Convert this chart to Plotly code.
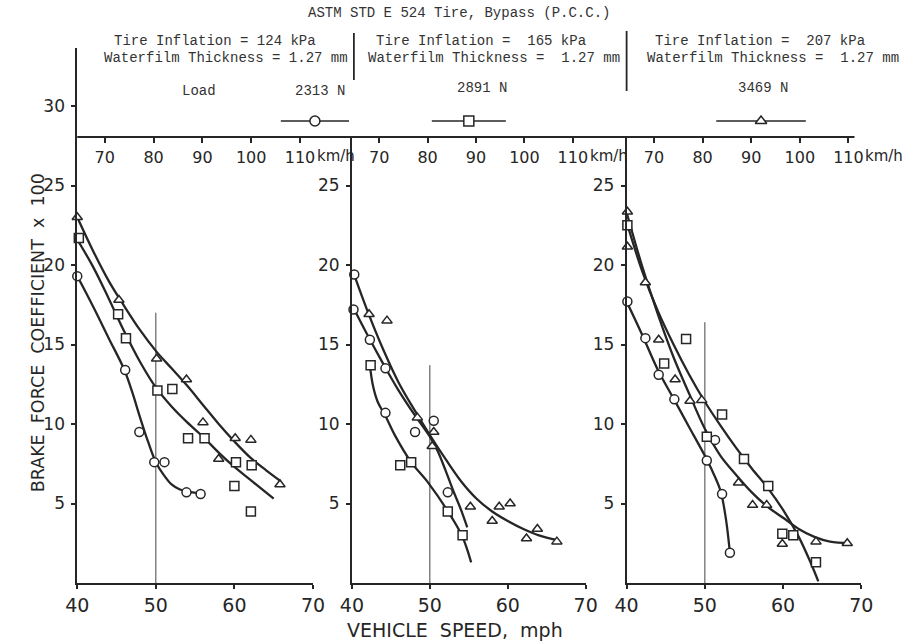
import plotly.graph_objects as go

# ---------------- data ----------------
# Panel 1: tire inflation 124 kPa
p1_circ_x = [40.0, 46.1, 47.9, 49.8, 51.1, 53.9, 55.7]
p1_circ_y = [19.3, 13.4, 9.5, 7.6, 7.6, 5.7, 5.6]
p1_sq_x = [40.2, 45.2, 46.2, 50.2, 52.1, 54.1, 56.2, 60.2, 62.2, 60.0, 62.1]
p1_sq_y = [21.7, 16.9, 15.4, 12.1, 12.2, 9.1, 9.1, 7.6, 7.4, 6.1, 4.5]
p1_tri_x = [40.0, 45.3, 50.1, 53.9, 56.0, 58.0, 60.1, 62.1, 65.8]
p1_tri_y = [23.0, 17.8, 14.1, 12.8, 10.1, 7.8, 9.1, 9.0, 6.2]
p1_circ_fit_x = [40, 42, 44, 46, 47, 48, 49, 50, 51, 52, 53, 54, 55.7]
p1_circ_fit_y = [19.3, 17.4, 15.4, 13.4, 12.0, 10.4, 8.9, 7.6, 6.8, 6.2, 5.9, 5.75, 5.65]
p1_sq_fit_x = [40, 42, 44, 46, 48, 50, 52, 54, 56, 58, 60, 62, 65]
p1_sq_fit_y = [21.6, 19.9, 17.9, 15.8, 13.9, 12.3, 11.1, 10.1, 9.2, 8.2, 7.3, 6.5, 5.3]
p1_tri_fit_x = [40, 42, 44, 46, 48, 50, 52, 54, 56, 58, 60, 62, 64, 65.9]
p1_tri_fit_y = [23.0, 20.9, 19.0, 17.4, 15.9, 14.6, 13.5, 12.4, 11.2, 10.0, 8.9, 7.9, 7.1, 6.4]

# Panel 2: tire inflation 165 kPa
p2_circ_x = [40.3, 40.2, 42.3, 44.3, 44.3, 48.1, 50.5, 52.3]
p2_circ_y = [19.4, 17.2, 15.3, 13.5, 10.7, 9.5, 10.2, 5.7]
p2_sq_x = [42.4, 46.2, 47.6, 52.3, 54.2]
p2_sq_y = [13.7, 7.4, 7.6, 4.5, 3.0]
p2_tri_x = [42.2, 44.5, 48.4, 50.5, 50.3, 55.2, 58.0, 58.9, 60.3, 62.4, 63.8, 66.3]
p2_tri_y = [16.9, 16.5, 10.4, 9.5, 8.6, 4.8, 3.9, 4.8, 5.0, 2.8, 3.4, 2.6]
p2_tri_fit_x = [40.2, 42, 44, 46, 48, 50, 52, 54, 56, 58, 60, 62, 64, 66.4]
p2_tri_fit_y = [19.5, 17.1, 14.7, 12.6, 10.9, 9.3, 7.8, 6.4, 5.3, 4.5, 3.9, 3.4, 3.0, 2.7]
p2_circ_fit_x = [40.2, 42, 44, 46, 48, 50, 51, 52, 53, 54, 54.8]
p2_circ_fit_y = [17.3, 15.6, 13.8, 12.1, 10.6, 9.2, 8.3, 7.1, 5.8, 4.6, 3.5]
p2_sq_fit_x = [42.3, 42.7, 43.3, 44.3, 45.5, 47.6, 49.8, 52.2, 54.1, 55.3]
p2_sq_fit_y = [13.7, 12.4, 11.4, 10.5, 9.3, 7.6, 6.3, 4.6, 3.0, 1.3]

# Panel 3: tire inflation 207 kPa
p3_circ_x = [40.1, 42.4, 44.1, 46.1, 50.25, 51.3, 52.2, 53.2]
p3_circ_y = [17.7, 15.4, 13.1, 11.55, 7.7, 9.0, 5.6, 1.9]
p3_sq_x = [40.1, 44.8, 47.6, 50.25, 52.2, 55.0, 58.1, 59.9, 61.3, 64.2]
p3_sq_y = [22.5, 13.8, 15.35, 9.2, 10.6, 7.8, 6.1, 3.1, 3.0, 1.3]
p3_tri_x = [40.1, 40.1, 42.4, 44.1, 46.2, 48.1, 49.6, 54.3, 56.1, 57.9, 59.9, 64.2, 68.2]
p3_tri_y = [23.35, 21.15, 18.9, 15.3, 12.8, 11.45, 11.5, 6.3, 4.9, 4.9, 2.45, 2.6, 2.5]
p3_sq_fit_x = [40, 42, 44, 46, 48, 50, 52, 54, 56, 58, 60, 62, 63.5, 64.5]
p3_sq_fit_y = [22.7, 19.6, 17.1, 15.0, 13.1, 11.4, 9.9, 8.5, 7.2, 6.0, 4.6, 2.9, 1.3, 0.1]
p3_tri_fit_x = [40, 42, 44, 46, 48, 50, 52, 54, 56, 58, 60, 62, 64, 66, 68.5]
p3_tri_fit_y = [23.3, 19.9, 16.9, 14.2, 11.9, 9.7, 8.0, 6.8, 5.7, 4.8, 4.1, 3.4, 2.9, 2.6, 2.5]
p3_circ_fit_x = [40, 42, 44, 46, 48, 50, 51, 52, 52.7, 53.2]
p3_circ_fit_y = [17.7, 15.6, 13.4, 11.6, 9.8, 8.0, 7.0, 5.8, 4.0, 1.9]

# vertical reference line at 50 mph (top value per panel)
ref_x = 50
ref_top = [17.0, 13.7, 16.4]

mph_ticks = [40, 50, 60, 70]
coef_ticks = [5, 10, 15, 20, 25]
kmh_ticks = [70, 80, 90, 100, 110]
kmh_labels = ["70", "80", "90", "100", "110"]
loads = ["2313 N", "2891 N", "3469 N"]
inflations = ["Tire Inflation = 124 kPa", "Tire Inflation =  165 kPa", "Tire Inflation =  207 kPa"]
waterfilm = ["Waterfilm Thickness = 1.27 mm", "Waterfilm Thickness =  1.27 mm", "Waterfilm Thickness =  1.27 mm"]
title = "ASTM STD E 524 Tire, Bypass (P.C.C.)"

# ---------------- layout helpers ----------------
W, H = 924, 644
INK = "#262626"
def fx(p):
    return p / W
def fy(p):
    return 1 - p / H

MPH_TO_KMH = 1.609344
Y_BOTTOM = fy(583)
Y_TOP = fy(137)
x_domains = [[fx(67), fx(309)], [fx(349), fx(589)], [fx(631), fx(872)]]

fig = go.Figure()

panels = [
    (p1_circ_x, p1_circ_y, p1_sq_x, p1_sq_y, p1_tri_x, p1_tri_y,
     p1_circ_fit_x, p1_circ_fit_y, p1_sq_fit_x, p1_sq_fit_y, p1_tri_fit_x, p1_tri_fit_y),
    (p2_circ_x, p2_circ_y, p2_sq_x, p2_sq_y, p2_tri_x, p2_tri_y,
     p2_circ_fit_x, p2_circ_fit_y, p2_sq_fit_x, p2_sq_fit_y, p2_tri_fit_x, p2_tri_fit_y),
    (p3_circ_x, p3_circ_y, p3_sq_x, p3_sq_y, p3_tri_x, p3_tri_y,
     p3_circ_fit_x, p3_circ_fit_y, p3_sq_fit_x, p3_sq_fit_y, p3_tri_fit_x, p3_tri_fit_y),
]

def marker(sym, size=9):
    return dict(symbol=sym, size=size, color="white", line=dict(color=INK, width=1.5))

for i, pdata in enumerate(panels):
    (cx, cy, sx, sy, tx, ty, cfx, cfy, sfx, sfy, tfx, tfy) = pdata
    xa = "x" if i == 0 else f"x{i+1}"
    ya = "y" if i == 0 else f"y{i+1}"
    # reference line at 50 mph
    fig.add_trace(go.Scatter(x=[ref_x, ref_x], y=[0, ref_top[i]], mode="lines",
                             line=dict(color="#444", width=1), xaxis=xa, yaxis=ya,
                             showlegend=False, hoverinfo="skip"))
    for fxs, fys in ((cfx, cfy), (sfx, sfy), (tfx, tfy)):
        fig.add_trace(go.Scatter(x=fxs, y=fys, mode="lines",
                                 line=dict(color=INK, width=2.3, shape="spline", smoothing=1.0),
                                 xaxis=xa, yaxis=ya, showlegend=False, hoverinfo="skip"))
    for xs, ys, sym in ((cx, cy, "circle"), (sx, sy, "square"), (tx, ty, "triangle-up")):
        fig.add_trace(go.Scatter(x=xs, y=ys, mode="markers", marker=marker(sym),
                                 xaxis=xa, yaxis=ya, showlegend=False, cliponaxis=False))
    # empty trace to activate the km/h overlay axis
    fig.add_trace(go.Scatter(x=[], y=[], xaxis=f"x{i+4}", yaxis=ya, showlegend=False))

# legend keys in the header (pixel-like header axis)
key_cx = [311, 469, 769]
key_hw = [35, 38, 46]
key_sym = ["circle", "square", "triangle-up"]
KEY_Y = 28.05 + (137 - 121) / 15.9
for c, hw, sym in zip(key_cx, key_hw, key_sym):
    fig.add_trace(go.Scatter(x=[c - hw, c + hw], y=[KEY_Y, KEY_Y], mode="lines",
                             line=dict(color=INK, width=1.6), xaxis="x7", yaxis="y4",
                             showlegend=False, hoverinfo="skip"))
    fig.add_trace(go.Scatter(x=[c], y=[KEY_Y], mode="markers", marker=marker(sym, 10),
                             xaxis="x7", yaxis="y4", showlegend=False, cliponaxis=False))

tick_font_x = dict(family="DejaVu Sans", size=19, color=INK)
tick_font_y = dict(family="DejaVu Sans", size=17, color=INK)
tick_font_k = dict(family="DejaVu Sans", size=16, color=INK)
unit_font_k = dict(family="DejaVu Sans", size=15, color=INK)

layout = dict(
    width=W, height=H, autosize=False,
    margin=dict(l=0, r=0, t=0, b=0, pad=0),
    paper_bgcolor="white", plot_bgcolor="white",
    showlegend=False,
)
for i in range(3):
    xn = "xaxis" if i == 0 else f"xaxis{i+1}"
    yn = "yaxis" if i == 0 else f"yaxis{i+1}"
    xa = "x" if i == 0 else f"x{i+1}"
    ya = "y" if i == 0 else f"y{i+1}"
    layout[xn] = dict(domain=x_domains[i], range=[40, 70], anchor=ya,
                      tickvals=mph_ticks, ticks="outside", ticklen=4, tickwidth=1.5,
                      tickcolor=INK, showline=True, linecolor=INK, linewidth=1.8,
                      showgrid=False, zeroline=False, tickfont=tick_font_x,
                      ticklabelstandoff=0)
    layout[yn] = dict(domain=[Y_BOTTOM, Y_TOP], range=[0, 28.05], anchor=xa,
                      tickvals=coef_ticks, ticks="outside", ticklen=4, tickwidth=1.5,
                      tickcolor=INK, showline=True, linecolor=INK, linewidth=1.8,
                      showgrid=False, zeroline=False, tickfont=tick_font_y,
                      ticklabelstandoff=3)
    layout[f"xaxis{i+4}"] = dict(overlaying=xa, anchor="free", position=Y_TOP, side="bottom",
                                 range=[40 * MPH_TO_KMH, 70 * MPH_TO_KMH],
                                 tickvals=kmh_ticks, ticktext=kmh_labels,
                                 ticks="outside", ticklen=5, tickwidth=1.5, tickcolor=INK,
                                 showline=False, showgrid=False, zeroline=False,
                                 tickfont=tick_font_k, ticklabelstandoff=1)

# header extension of the first panel's coefficient axis
layout["yaxis4"] = dict(domain=[Y_TOP, fy(48)], range=[28.05, 28.05 + (137 - 48) / 15.9],
                        anchor="x", tickvals=[30], ticks="outside", ticklen=4, tickwidth=1.5,
                        tickcolor=INK, showline=True, linecolor=INK, linewidth=1.8,
                        showgrid=False, zeroline=False, tickfont=tick_font_y,
                        ticklabelstandoff=3)
layout["xaxis7"] = dict(domain=[0, 1], range=[0, W], anchor="y4", visible=False)

fig.update_layout(**layout)

# continuous km/h axis line across the three panels
fig.add_shape(type="line", xref="paper", yref="paper", x0=fx(67), x1=fx(865),
              y0=Y_TOP, y1=Y_TOP, line=dict(color=INK, width=1.8))
# header separators
fig.add_shape(type="line", xref="paper", yref="paper", x0=fx(351), x1=fx(351),
              y0=fy(33), y1=fy(80), line=dict(color=INK, width=1.8))
fig.add_shape(type="line", xref="paper", yref="paper", x0=fx(631), x1=fx(631),
              y0=fy(31), y1=fy(91), line=dict(color=INK, width=1.8))

mono = dict(family="Liberation Mono", size=14, color="#333")
def ann(text, x, y, font, **kw):
    fig.add_annotation(text=text, x=x, y=y, xref="paper", yref="paper",
                       xanchor="center", yanchor="middle",
                       showarrow=False, font=font, **kw)

ann(title, fx(459), fy(13), mono)
inf_cx = [208, 481, 768]
wat_cx = [220, 495, 781]
for i in range(3):
    ann(inflations[i].replace("  ", "\u00a0 "), fx(inf_cx[i]), fy(41), mono)
    ann(waterfilm[i].replace("  ", "\u00a0 "), fx(wat_cx[i]), fy(58), mono)
load_cx = [316, 483, 771]
load_cy = [91, 88, 88]
ann("Load", fx(192), fy(91), mono)
for i in range(3):
    ann(loads[i], fx(load_cx[i]), fy(load_cy[i]), mono)

# km/h unit labels after the 110 tick
for i in range(3):
    fig.add_annotation(text="km/h", x=110, xref=f"x{i+4}", y=fy(156), yref="paper",
                       xanchor="left", yanchor="middle", xshift=16, showarrow=False,
                       font=unit_font_k, borderpad=0)

# axis titles
ann("BRAKE\u00a0\u00a0FORCE\u00a0\u00a0COEFFICIENT\u00a0\u00a0x\u00a0\u00a0100", fx(27), fy(333),
    dict(family="DejaVu Sans", size=17.5, color=INK), textangle=-90)
ann("VEHICLE\u00a0\u00a0SPEED,\u00a0\u00a0mph", fx(455), fy(630),
    dict(family="DejaVu Sans", size=19, color=INK))

fig.write_html("out.html")
